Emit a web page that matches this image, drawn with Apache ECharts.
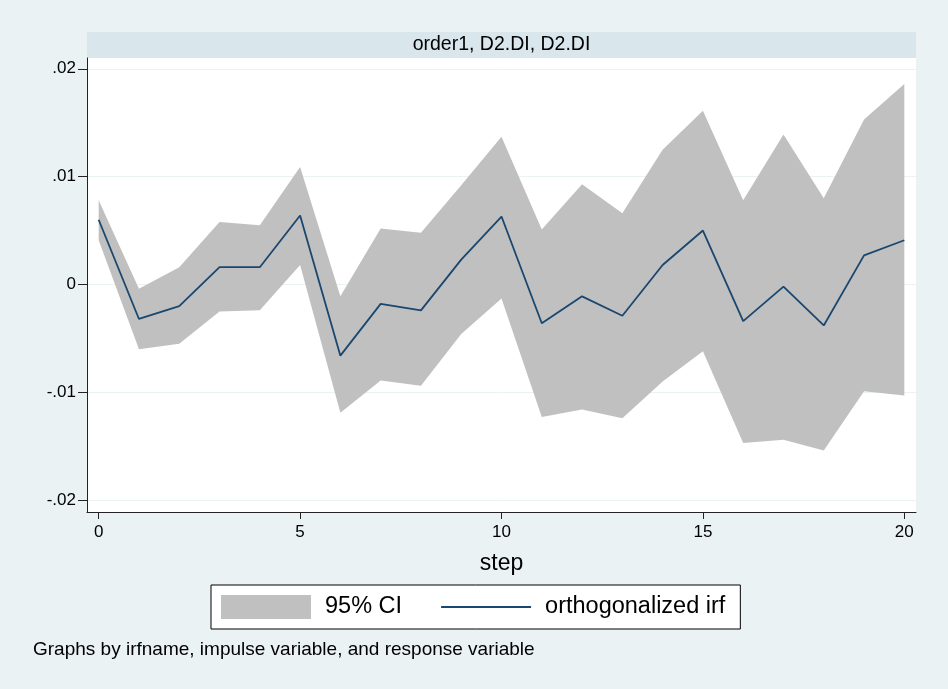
<!DOCTYPE html>
<html><head><meta charset="utf-8">
<script src="https://cdn.jsdelivr.net/npm/echarts@6/dist/echarts.min.js"></script>
<style>html,body{margin:0;padding:0;background:#eaf2f3}#c{width:948px;height:689px}</style>
</head><body><div id="c"></div>
<script>
const steps = [0,1,2,3,4,5,6,7,8,9,10,11,12,13,14,15,16,17,18,19,20];
const irf = [0.0060,-0.0032,-0.0020,0.0016,0.0016,0.0064,-0.0066,-0.0018,-0.0024,0.0023,0.0063,-0.0036,-0.0011,-0.0029,0.0018,0.0050,-0.0034,-0.0002,-0.0038,0.0027,0.0041];
const ciUpper = [0.0078,-0.0004,0.0016,0.0058,0.0055,0.0109,-0.0011,0.0052,0.0048,0.0092,0.0137,0.0051,0.0093,0.0066,0.0125,0.0161,0.0078,0.0139,0.0080,0.0153,0.0186];
const ciLower = [0.0041,-0.0060,-0.0055,-0.0025,-0.0024,0.0018,-0.0119,-0.0089,-0.0094,-0.0046,-0.0013,-0.0123,-0.0116,-0.0124,-0.0090,-0.0062,-0.0147,-0.0144,-0.0154,-0.0099,-0.0103];
const xTicks = [0,5,10,15,20];
const yTicks = [-0.02,-0.01,0,0.01,0.02];
const yTickLabels = ['-.02','-.01','0','.01','.02'];
const panelTitle = 'order1, D2.DI, D2.DI';
const xName = 'step';
const ciName = '95% CI';
const irfName = 'orthogonalized irf';
const note = 'Graphs by irfname, impulse variable, and response variable';

const FONT = '"Liberation Sans", Arial, sans-serif';
const chart = echarts.init(document.getElementById('c'), null, {renderer:'canvas'});
const axisColor = '#222';
function yLabel(v){
  let best = 0, d = Infinity;
  yTicks.forEach((t,i)=>{ const dd = Math.abs(t - v); if (dd < d) { d = dd; best = i; } });
  return yTickLabels[best];
}
chart.setOption({
  backgroundColor: '#eaf2f3',
  animation: false,
  textStyle: {fontFamily: FONT},
  grid: {left: 87, right: 32, top: 58, bottom: 177, show: true, backgroundColor: '#fff', borderWidth: 0},
  graphic: [
    {type:'rect', shape:{x:87, y:32, width:829, height:26}, style:{fill:'#d9e6eb'}, z: 0},
    {type:'text', x:501.5, y:45, style:{text: panelTitle, fontSize:19.5, fontFamily: FONT, fill:'#000', textAlign:'center', textVerticalAlign:'middle'}},
    {type:'text', x:33, y:650, style:{text: note, fontSize:19, fontFamily: FONT, fill:'#000', textAlign:'left', textVerticalAlign:'middle'}}
  ],
  legend: {
    left: 211, top: 585, orient: 'horizontal',
    padding: [10,15,10,10], itemGap: 38, itemWidth: 90, itemHeight: 24,
    backgroundColor: '#fff', borderColor: '#000', borderWidth: 1, borderRadius: 0,
    selectedMode: false,
    textStyle: {fontSize: 23.5, fontFamily: FONT, color: '#000', padding: [0,0,0,9], lineHeight: 24},
    data: [
      {name: ciName, icon: 'rect', itemStyle: {color: '#c0c0c0', borderWidth: 0}},
      {name: irfName, itemStyle: {opacity: 0}, lineStyle: {color: '#1a476f', width: 2}}
    ]
  },
  xAxis: {
    type: 'value', min: -0.29, max: 20.29,
    axisLine: {show: true, onZero: false, lineStyle: {color: axisColor, width: 1}},
    axisTick: {show: true, length: 7, customValues: xTicks, lineStyle: {color: axisColor}},
    axisLabel: {customValues: xTicks, fontSize: 17, margin: 12, color: '#000', fontFamily: FONT},
    splitLine: {show: false},
    name: xName, nameLocation: 'middle', nameGap: 40,
    nameTextStyle: {fontSize: 23, color: '#000', fontFamily: FONT}
  },
  yAxis: {
    type: 'value', min: -0.0211, max: 0.0210,
    axisLine: {show: true, onZero: false, lineStyle: {color: axisColor, width: 1}},
    axisTick: {show: true, length: 9, customValues: yTicks, lineStyle: {color: axisColor}},
    axisLabel: {customValues: yTicks, formatter: yLabel, fontSize: 17, margin: 11, color: '#000', fontFamily: FONT},
    splitLine: {show: true, lineStyle: {color: '#eaf2f3', width: 1}}
  },
  series: [
    {
      name: ciName, type: 'custom', coordinateSystem: 'cartesian2d',
      data: steps.map((s,i)=>[s, ciLower[i], ciUpper[i]]),
      encode: {x: 0, y: [1, 2]},
      itemStyle: {color: '#c0c0c0'},
      silent: true, z: 1,
      renderItem: function(params, api){
        if (params.dataIndex !== 0) return null;
        const pts = [];
        for (let i = 0; i < steps.length; i++) pts.push(api.coord([steps[i], ciUpper[i]]));
        for (let i = steps.length - 1; i >= 0; i--) pts.push(api.coord([steps[i], ciLower[i]]));
        return {type: 'polygon', shape: {points: pts}, style: {fill: '#c0c0c0'}};
      }
    },
    {
      name: irfName, type: 'line',
      data: steps.map((s,i)=>[s, irf[i]]),
      symbol: 'none', lineStyle: {color: '#1a476f', width: 1.8},
      itemStyle: {color: '#1a476f'}, z: 3
    }
  ]
});
</script></body></html>
